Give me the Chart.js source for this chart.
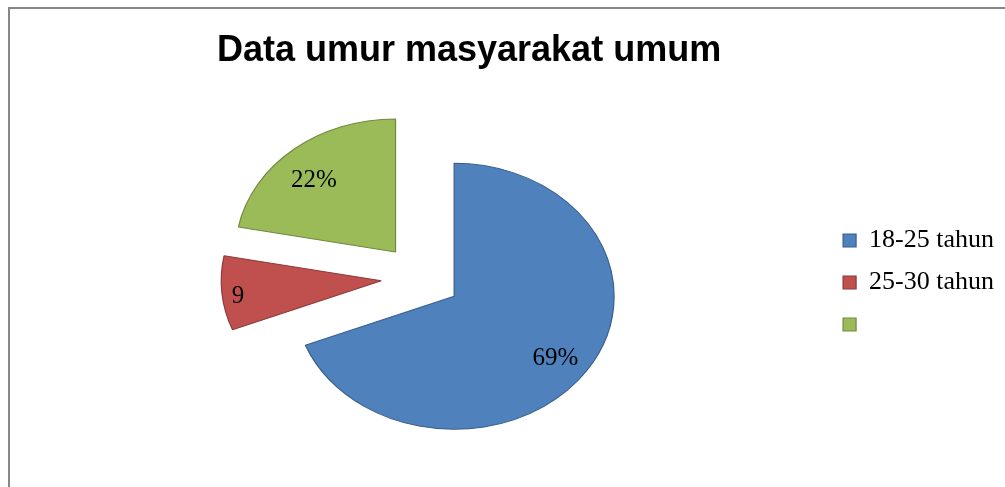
<!DOCTYPE html>
<html>
<head>
<meta charset="utf-8">
<script src="https://cdn.jsdelivr.net/npm/chart.js@4/dist/chart.umd.min.js"></script>
<style>
  html, body { margin: 0; padding: 0; background: #fff; overflow: hidden; }
  #frame {
    position: absolute; left: 8px; top: 7px; width: 1100px; height: 600px;
    border-left: 2px solid #878787; border-top: 2px solid #878787;
  }
  #pie { position: absolute; left: 0; top: 0; }
</style>
</head>
<body>
<div id="frame"></div>
<canvas id="pie" width="1005" height="487"></canvas>
<script>
// data
const categories = ["18-25 tahun", "25-30 tahun", ""];
const values = [69, 9, 22];
const valueLabels = ["69%", "9", "22%"];

const fills = ["#4f81bd", "#c0504d", "#9bbb59"];
const edges = ["#3a5f8b", "#8c3a38", "#71893f"];

const RADIUS = 160;          // horizontal radius of the pie
const SQUASH = 133 / 160;    // the pie is drawn as a flattened ellipse
const EXPLODE = 40;          // every slice is pulled out by the same amount
const PIE_SHIFT_X = -48;     // pie sits left of the title centre
const LABEL_POS = [0.78, 0.9, 0.75];
const LABEL_TURN = [0.028, -0.017, -0.056];

// pie centre, before the slices are pulled apart
function pieCentre(chart) {
    const a = chart.chartArea;
    return { x: (a.left + a.right) / 2 + PIE_SHIFT_X, y: (a.top + a.bottom) / 2 };
}

// pull every slice out from the centre along its middle angle
const explode = {
    id: "explode",
    afterDatasetUpdate(chart, args) {
        const c = pieCentre(chart);
        args.meta.data.forEach(arc => {
            const mid = (arc.startAngle + arc.endAngle) / 2;
            arc.x = c.x + Math.cos(mid) * EXPLODE;
            arc.y = c.y + Math.sin(mid) * EXPLODE;
        });
    }
};

const squash = {
    id: "squash",
    beforeDatasetsDraw(chart) {
        const c = pieCentre(chart);
        const ctx = chart.ctx;
        ctx.save();
        ctx.translate(c.x, c.y);
        ctx.scale(1, SQUASH);
        ctx.translate(-c.x, -c.y);
    },
    afterDatasetsDraw(chart) {
        const ctx = chart.ctx;
        ctx.restore();

        const c = pieCentre(chart);
        ctx.save();
        ctx.font = "25px 'Liberation Serif'";
        ctx.fillStyle = "#000";
        ctx.textAlign = "center";
        ctx.textBaseline = "alphabetic";
        chart.getDatasetMeta(0).data.forEach((arc, i) => {
            const mid = (arc.startAngle + arc.endAngle) / 2;
            const ang = mid + LABEL_TURN[i];
            const r = RADIUS * LABEL_POS[i];
            const x = c.x + Math.cos(mid) * EXPLODE + Math.cos(ang) * r;
            const y = c.y + (Math.sin(mid) * EXPLODE + Math.sin(ang) * r) * SQUASH;
            ctx.fillText(valueLabels[i], x, y + 8.5);
        });
        ctx.restore();
    }
};

new Chart(document.getElementById("pie").getContext("2d"), {
    type: "pie",
    data: {
        labels: categories,
        datasets: [{
            data: values,
            backgroundColor: fills,
            borderColor: edges,
            borderWidth: 1.2
        }]
    },
    options: {
        responsive: false,
        devicePixelRatio: 1,
        animation: false,
        events: [],
        radius: RADIUS,
        layout: { padding: { left: 111, right: 1, top: 0, bottom: 4 } },
        plugins: {
            title: {
                display: true,
                fullSize: false,
                text: "Data umur masyarakat umum",
                color: "#000",
                font: { family: "'Liberation Sans'", size: 36, weight: "bold" },
                padding: { top: 29, bottom: 0 }
            },
            legend: {
                position: "right",
                title: { display: true, text: "", font: { size: 10 }, padding: 35 },
                labels: {
                    color: "#000",
                    font: { family: "'Liberation Serif'", size: 26 },
                    boxWidth: 13,
                    boxHeight: 13,
                    padding: 16
                }
            },
            tooltip: { enabled: false }
        }
    },
    plugins: [explode, squash]
});
</script>
</body>
</html>
